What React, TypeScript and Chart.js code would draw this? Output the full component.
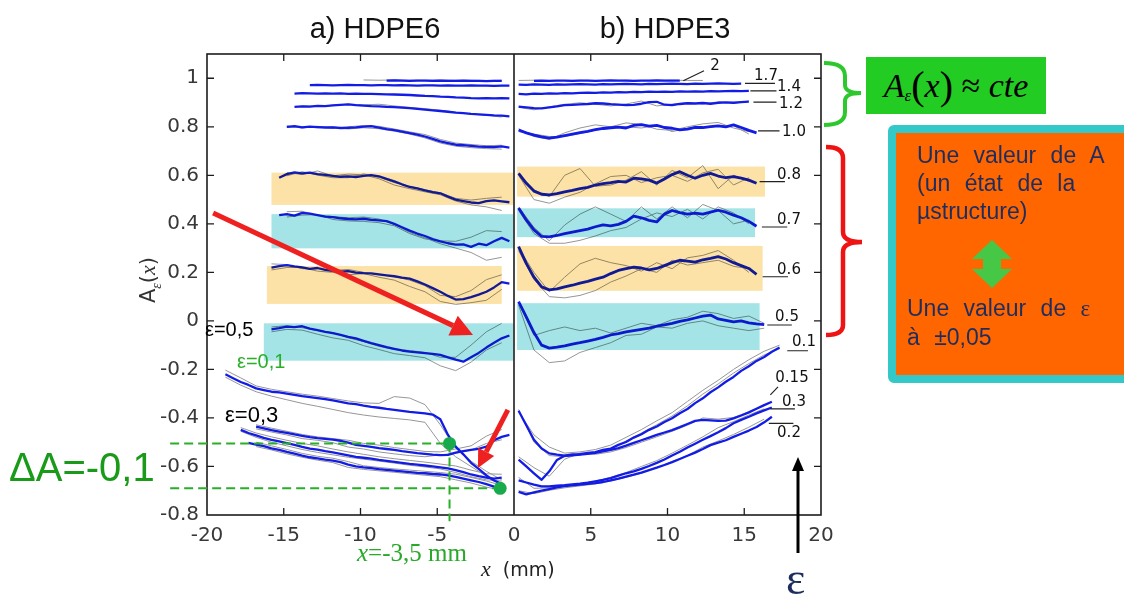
import React, { useEffect, useRef } from "react";
import { Chart, registerables } from "chart.js";

Chart.register(...registerables);

// ---------- axes ----------
const xRange = [-20, 20];
const yRange = [-0.8, 1.1];
const xTickValues = [-20, -15, -10, -5, 0, 5, 10, 15, 20];
const xTickLabels = ["-20", "-15", "-10", "-5", "0", "5", "10", "15", "20"];
const yTickValues = [-0.8, -0.6, -0.4, -0.2, 0, 0.2, 0.4, 0.6, 0.8, 1];
const yTickLabels = ["-0.8", "-0.6", "-0.4", "-0.2", "0", "0.2", "0.4", "0.6", "0.8", "1"];

// ---------- sampling positions x (mm) ----------
const gridL = [-18.8, -18.3, -17.8, -17.3, -16.8, -16.3, -15.8, -15.3, -14.8, -14.3, -13.8, -13.3, -12.8, -12.3, -11.8, -11.3, -10.8, -10.3, -9.8, -9.3, -8.8, -8.3, -7.8, -7.3, -6.8, -6.3, -5.8, -5.3, -4.8, -4.3, -3.8, -3.3, -2.8, -2.3, -1.8, -1.3, -0.8, -0.3];
const gridLc = [-18.8, -17.8, -16.8, -15.8, -14.8, -13.8, -12.8, -11.8, -10.8, -9.8, -8.8, -7.8, -6.8, -5.8, -4.8, -3.8, -2.8, -1.8, -0.8];
const gridR = [0.3, 0.8, 1.3, 1.8, 2.3, 2.8, 3.3, 3.8, 4.3, 4.8, 5.3, 5.8, 6.3, 6.8, 7.3, 7.8, 8.3, 8.8, 9.3, 9.8, 10.3, 10.8, 11.3, 11.8, 12.3, 12.8, 13.3, 13.8, 14.3, 14.8, 15.3, 15.8, 16.3, 16.8, 17.3];
const gridRc = [0.3, 1.3, 2.3, 3.3, 4.3, 5.3, 6.3, 7.3, 8.3, 9.3, 10.3, 11.3, 12.3, 13.3, 14.3, 15.3, 16.3, 17.3];

// ---------- a) HDPE6 : mean curves A_eps(x) ----------
const a_e2 = [0.990, 0.991, 0.990, 0.989, 0.990, 0.990, 0.989, 0.990, 0.989, 0.989, 0.990, 0.989, 0.989, 0.988, 0.989, 0.989];
const a_e17 = [0.972, 0.973, 0.972, 0.971, 0.972, 0.973, 0.972, 0.972, 0.971, 0.972, 0.972, 0.971, 0.972, 0.971, 0.970, 0.971, 0.971, 0.970, 0.971, 0.970, 0.970, 0.971, 0.970, 0.970, 0.969, 0.970, 0.970];
const a_e14 = [0.937, 0.939, 0.938, 0.937, 0.938, 0.937, 0.938, 0.936, 0.937, 0.936, 0.936, 0.935, 0.934, 0.933, 0.932, 0.931, 0.929, 0.927, 0.926, 0.924, 0.923, 0.921, 0.920, 0.918, 0.917, 0.918, 0.917, 0.918, 0.917];
const a_e12 = [0.882, 0.884, 0.883, 0.886, 0.885, 0.888, 0.890, 0.892, 0.889, 0.887, 0.885, 0.884, 0.882, 0.881, 0.879, 0.877, 0.874, 0.871, 0.868, 0.865, 0.862, 0.858, 0.856, 0.853, 0.851, 0.849, 0.847, 0.846, 0.843];
const a_e10 = [0.800, 0.803, 0.798, 0.801, 0.799, 0.797, 0.798, 0.795, 0.796, 0.798, 0.801, 0.803, 0.797, 0.790, 0.786, 0.780, 0.774, 0.768, 0.760, 0.750, 0.740, 0.733, 0.726, 0.724, 0.721, 0.718, 0.717, 0.716, 0.719, 0.714];
const a_e08 = [0.590, 0.605, 0.612, 0.608, 0.611, 0.605, 0.602, 0.598, 0.594, 0.596, 0.593, 0.598, 0.601, 0.596, 0.585, 0.575, 0.563, 0.552, 0.546, 0.538, 0.531, 0.526, 0.512, 0.500, 0.494, 0.488, 0.485, 0.494, 0.497, 0.493, 0.489];
const a_e07 = [0.436, 0.440, 0.434, 0.445, 0.442, 0.436, 0.430, 0.428, 0.423, 0.420, 0.418, 0.421, 0.416, 0.414, 0.411, 0.400, 0.386, 0.372, 0.360, 0.350, 0.337, 0.328, 0.320, 0.314, 0.315, 0.305, 0.318, 0.312, 0.328, 0.342, 0.328];
const a_e06 = [0.220, 0.226, 0.230, 0.225, 0.221, 0.214, 0.218, 0.210, 0.206, 0.203, 0.205, 0.199, 0.197, 0.196, 0.192, 0.188, 0.184, 0.178, 0.174, 0.163, 0.150, 0.135, 0.120, 0.103, 0.088, 0.090, 0.098, 0.108, 0.120, 0.138, 0.160, 0.154];
const a_e05 = [-0.035, -0.030, -0.024, -0.026, -0.022, -0.032, -0.038, -0.045, -0.050, -0.058, -0.066, -0.072, -0.082, -0.092, -0.100, -0.108, -0.115, -0.122, -0.127, -0.130, -0.133, -0.136, -0.140, -0.150, -0.160, -0.168, -0.150, -0.132, -0.110, -0.090, -0.072, -0.060];
const a_e01 = [-0.220, -0.236, -0.252, -0.264, -0.278, -0.285, -0.292, -0.295, -0.300, -0.305, -0.310, -0.314, -0.318, -0.322, -0.328, -0.334, -0.340, -0.343, -0.349, -0.354, -0.358, -0.363, -0.367, -0.371, -0.375, -0.378, -0.381, -0.386, -0.405, -0.470, -0.518, -0.550, -0.585, -0.610, -0.637, -0.658, -0.672];
const a_e03 = [-0.436, -0.443, -0.450, -0.456, -0.462, -0.468, -0.474, -0.479, -0.483, -0.486, -0.489, -0.494, -0.502, -0.511, -0.515, -0.519, -0.524, -0.528, -0.532, -0.537, -0.541, -0.545, -0.548, -0.551, -0.553, -0.552, -0.543, -0.537, -0.532, -0.527, -0.518, -0.492, -0.478, -0.470];
const a_e015 = [-0.449, -0.462, -0.472, -0.482, -0.490, -0.497, -0.504, -0.511, -0.519, -0.526, -0.531, -0.537, -0.542, -0.548, -0.554, -0.560, -0.564, -0.568, -0.573, -0.577, -0.581, -0.585, -0.589, -0.592, -0.596, -0.600, -0.604, -0.608, -0.615, -0.623, -0.633, -0.640, -0.646, -0.650, -0.646];
const a_e02 = [-0.503, -0.510, -0.516, -0.525, -0.532, -0.540, -0.547, -0.555, -0.562, -0.567, -0.572, -0.576, -0.582, -0.592, -0.600, -0.604, -0.607, -0.611, -0.614, -0.617, -0.620, -0.623, -0.626, -0.628, -0.631, -0.633, -0.637, -0.643, -0.650, -0.657, -0.664, -0.673, -0.683, -0.690];

// ---------- a) HDPE6 : individual tests (grey) ----------
const a_e2_g = [0.993, 0.992, 0.993, 0.992, 0.992, 0.993, 0.992, 0.992, 0.991, 0.992];
const a_e12_g = [0.886, 0.884, 0.889, 0.893, 0.890, 0.893, 0.886, 0.880, 0.875, 0.868, 0.860, 0.852, 0.848, 0.840];
const a_e10_g1 = [0.803, 0.795, 0.802, 0.793, 0.800, 0.805, 0.802, 0.791, 0.779, 0.768, 0.748, 0.733, 0.727, 0.722, 0.724];
const a_e10_g2 = [0.797, 0.800, 0.796, 0.800, 0.791, 0.796, 0.792, 0.782, 0.770, 0.754, 0.733, 0.720, 0.714, 0.710, 0.708];
const a_e08_g1 = [0.612, 0.603, 0.618, 0.598, 0.605, 0.602, 0.586, 0.560, 0.545, 0.532, 0.520, 0.494, 0.478, 0.470, 0.455];
const a_e08_g2 = [0.598, 0.615, 0.601, 0.590, 0.590, 0.606, 0.592, 0.570, 0.555, 0.540, 0.528, 0.505, 0.498, 0.505, 0.510];
const a_e07_g1 = [0.450, 0.452, 0.435, 0.430, 0.425, 0.428, 0.420, 0.398, 0.365, 0.342, 0.318, 0.300, 0.282, 0.250, 0.262];
const a_e07_g2 = [0.428, 0.436, 0.438, 0.418, 0.412, 0.410, 0.405, 0.392, 0.360, 0.338, 0.330, 0.328, 0.345, 0.372, 0.368];
const a_e06_g1 = [0.235, 0.232, 0.215, 0.215, 0.208, 0.212, 0.200, 0.190, 0.183, 0.168, 0.145, 0.105, 0.100, 0.125, 0.170, 0.190];
const a_e06_g2 = [0.210, 0.220, 0.220, 0.205, 0.200, 0.190, 0.195, 0.180, 0.168, 0.142, 0.120, 0.080, 0.068, 0.075, 0.085, 0.130];
const a_e05_g1 = [-0.025, -0.020, -0.028, -0.040, -0.048, -0.070, -0.085, -0.105, -0.118, -0.122, -0.130, -0.150, -0.150, -0.100, -0.045, -0.010];
const a_e05_g2 = [-0.045, -0.035, -0.038, -0.055, -0.070, -0.080, -0.102, -0.118, -0.135, -0.143, -0.152, -0.185, -0.205, -0.170, -0.120, -0.090];
const a_e01_g1 = [-0.203, -0.235, -0.268, -0.282, -0.292, -0.302, -0.310, -0.320, -0.330, -0.338, -0.340, -0.312, -0.318, -0.345, -0.428, -0.525, -0.578, -0.620, -0.655];
const a_e01_g2 = [-0.232, -0.265, -0.292, -0.310, -0.325, -0.340, -0.352, -0.365, -0.378, -0.388, -0.396, -0.402, -0.408, -0.418, -0.505, -0.560, -0.600, -0.640, -0.670];
const a_e03_g1 = [-0.428, -0.442, -0.455, -0.468, -0.478, -0.485, -0.492, -0.505, -0.512, -0.522, -0.530, -0.538, -0.540, -0.528, -0.515, -0.475, -0.448];
const a_e03_g2 = [-0.445, -0.458, -0.470, -0.485, -0.492, -0.502, -0.520, -0.528, -0.540, -0.548, -0.555, -0.560, -0.552, -0.545, -0.532, -0.505, -0.490];
const a_e015_g1 = [-0.440, -0.462, -0.478, -0.492, -0.505, -0.515, -0.528, -0.540, -0.550, -0.560, -0.568, -0.575, -0.582, -0.590, -0.598, -0.615, -0.630, -0.632];
const a_e015_g2 = [-0.455, -0.480, -0.500, -0.515, -0.530, -0.542, -0.552, -0.562, -0.570, -0.578, -0.586, -0.595, -0.602, -0.610, -0.625, -0.642, -0.655, -0.660];
const a_e02_g1 = [-0.500, -0.515, -0.530, -0.546, -0.558, -0.566, -0.580, -0.597, -0.604, -0.610, -0.615, -0.620, -0.625, -0.632, -0.645, -0.660, -0.678];
const a_e02_g2 = [-0.518, -0.532, -0.548, -0.562, -0.574, -0.584, -0.604, -0.612, -0.618, -0.624, -0.630, -0.636, -0.642, -0.655, -0.668, -0.685, -0.698];

// ---------- b) HDPE3 : mean curves ----------
const b_e2 = [0.989, 0.990, 0.989, 0.990, 0.990, 0.989, 0.990, 0.990, 0.989, 0.990, 0.991, 0.990, 0.990, 0.989, 0.990, 0.990, 0.991, 0.990, 0.990, 0.990];
const b_e17 = [0.974, 0.973, 0.975, 0.974, 0.973, 0.975, 0.974, 0.975, 0.976, 0.975, 0.974, 0.976, 0.975, 0.976, 0.977, 0.976, 0.975, 0.977, 0.976, 0.977, 0.978, 0.977, 0.976, 0.978, 0.977, 0.978, 0.979, 0.978, 0.977, 0.978];
const b_e14 = [0.936, 0.934, 0.937, 0.936, 0.938, 0.937, 0.939, 0.938, 0.940, 0.941, 0.940, 0.942, 0.941, 0.943, 0.942, 0.944, 0.943, 0.945, 0.944, 0.945, 0.944, 0.946, 0.945, 0.946, 0.945, 0.947, 0.946, 0.947, 0.948, 0.947, 0.948];
const b_e12 = [0.883, 0.880, 0.877, 0.876, 0.880, 0.884, 0.889, 0.890, 0.892, 0.894, 0.897, 0.896, 0.893, 0.891, 0.889, 0.890, 0.895, 0.902, 0.903, 0.891, 0.889, 0.894, 0.897, 0.896, 0.898, 0.895, 0.899, 0.901, 0.899, 0.902, 0.904];
const b_e10 = [0.787, 0.775, 0.766, 0.758, 0.753, 0.757, 0.764, 0.770, 0.776, 0.781, 0.788, 0.793, 0.796, 0.799, 0.795, 0.806, 0.809, 0.803, 0.806, 0.797, 0.794, 0.787, 0.790, 0.798, 0.797, 0.801, 0.804, 0.800, 0.808, 0.797, 0.785, 0.775];
const b_e08 = [0.608, 0.567, 0.535, 0.522, 0.519, 0.525, 0.532, 0.538, 0.545, 0.550, 0.560, 0.566, 0.570, 0.575, 0.572, 0.588, 0.585, 0.580, 0.568, 0.585, 0.603, 0.615, 0.600, 0.588, 0.600, 0.608, 0.597, 0.590, 0.595, 0.588, 0.580, 0.567];
const b_e07 = [0.465, 0.416, 0.375, 0.348, 0.346, 0.352, 0.360, 0.366, 0.372, 0.378, 0.388, 0.396, 0.392, 0.398, 0.410, 0.432, 0.425, 0.414, 0.408, 0.440, 0.455, 0.446, 0.440, 0.444, 0.440, 0.448, 0.456, 0.448, 0.436, 0.425, 0.410, 0.390];
const b_e06 = [0.306, 0.237, 0.180, 0.140, 0.128, 0.132, 0.140, 0.147, 0.156, 0.163, 0.172, 0.180, 0.195, 0.208, 0.215, 0.222, 0.218, 0.210, 0.216, 0.228, 0.240, 0.250, 0.246, 0.242, 0.252, 0.258, 0.265, 0.255, 0.240, 0.228, 0.216, 0.192];
const b_e05 = [0.079, 0.017, -0.048, -0.100, -0.112, -0.108, -0.103, -0.096, -0.090, -0.083, -0.076, -0.068, -0.058, -0.052, -0.045, -0.040, -0.035, -0.030, -0.022, -0.016, -0.010, -0.002, 0.004, 0.012, 0.020, 0.024, 0.008, 0.002, -0.004, 0.000, -0.008, -0.012, -0.015];
const b_e01 = [-0.370, -0.430, -0.490, -0.526, -0.546, -0.551, -0.555, -0.550, -0.549, -0.544, -0.541, -0.532, -0.526, -0.511, -0.499, -0.481, -0.467, -0.449, -0.435, -0.417, -0.401, -0.381, -0.363, -0.339, -0.319, -0.294, -0.274, -0.251, -0.231, -0.206, -0.187, -0.165, -0.149, -0.127, -0.110];
const b_e015 = [-0.572, -0.600, -0.628, -0.655, -0.620, -0.573, -0.556, -0.554, -0.551, -0.548, -0.544, -0.538, -0.532, -0.524, -0.514, -0.503, -0.492, -0.481, -0.470, -0.460, -0.450, -0.438, -0.425, -0.412, -0.408, -0.410, -0.412, -0.411, -0.402, -0.390, -0.377, -0.362, -0.347, -0.333];
const b_e03 = [-0.657, -0.666, -0.675, -0.682, -0.682, -0.679, -0.677, -0.674, -0.671, -0.667, -0.661, -0.655, -0.648, -0.638, -0.628, -0.620, -0.610, -0.598, -0.585, -0.571, -0.555, -0.539, -0.522, -0.506, -0.490, -0.475, -0.459, -0.442, -0.422, -0.408, -0.395, -0.381, -0.369, -0.357];
const b_e02 = [-0.705, -0.715, -0.707, -0.700, -0.693, -0.686, -0.681, -0.678, -0.675, -0.672, -0.669, -0.664, -0.657, -0.650, -0.642, -0.634, -0.625, -0.615, -0.605, -0.594, -0.582, -0.569, -0.556, -0.543, -0.528, -0.512, -0.502, -0.492, -0.478, -0.465, -0.452, -0.437, -0.418, -0.395];

// ---------- b) HDPE3 : individual tests (grey) ----------
const b_e2_g = [0.991, 0.992, 0.991, 0.991, 0.992, 0.991, 0.991, 0.992, 0.991, 0.991, 0.992, 0.991, 0.991];
const b_e12_g = [0.880, 0.870, 0.882, 0.893, 0.899, 0.893, 0.886, 0.894, 0.906, 0.886, 0.893, 0.899, 0.894, 0.903, 0.897, 0.906];
const b_e10_g1 = [0.792, 0.760, 0.748, 0.775, 0.795, 0.808, 0.800, 0.816, 0.810, 0.790, 0.785, 0.800, 0.812, 0.818, 0.795, 0.780];
const b_e10_g2 = [0.780, 0.770, 0.760, 0.760, 0.772, 0.786, 0.794, 0.800, 0.795, 0.806, 0.780, 0.794, 0.796, 0.802, 0.805, 0.770];
const b_e08_g1 = [0.610, 0.540, 0.512, 0.600, 0.628, 0.555, 0.560, 0.580, 0.615, 0.560, 0.620, 0.590, 0.640, 0.545, 0.600, 0.575];
const b_e08_g2 = [0.600, 0.500, 0.485, 0.510, 0.530, 0.565, 0.595, 0.600, 0.570, 0.590, 0.600, 0.575, 0.610, 0.625, 0.560, 0.590];
const b_e07_g1 = [0.470, 0.385, 0.330, 0.395, 0.440, 0.470, 0.440, 0.410, 0.470, 0.420, 0.470, 0.425, 0.480, 0.455, 0.400, 0.415];
const b_e07_g2 = [0.455, 0.360, 0.320, 0.320, 0.332, 0.350, 0.372, 0.385, 0.420, 0.445, 0.430, 0.460, 0.420, 0.470, 0.445, 0.400];
const b_e06_g1 = [0.300, 0.200, 0.120, 0.180, 0.235, 0.258, 0.240, 0.228, 0.205, 0.240, 0.215, 0.260, 0.270, 0.290, 0.250, 0.200];
const b_e06_g2 = [0.290, 0.170, 0.100, 0.095, 0.105, 0.125, 0.160, 0.185, 0.215, 0.200, 0.250, 0.230, 0.240, 0.250, 0.225, 0.215];
const b_e05_g1 = [0.075, -0.060, -0.040, -0.025, -0.040, -0.030, -0.050, -0.030, -0.010, -0.020, 0.005, 0.015, 0.040, 0.030, 0.010, 0.020, -0.010];
const b_e05_g2 = [0.065, -0.120, -0.172, -0.165, -0.130, -0.110, -0.090, -0.060, -0.055, -0.025, -0.030, -0.010, 0.000, -0.020, -0.030, -0.040, -0.030];
const b_e01_g1 = [-0.375, -0.470, -0.520, -0.545, -0.540, -0.530, -0.512, -0.480, -0.448, -0.412, -0.378, -0.332, -0.286, -0.245, -0.200, -0.160, -0.125, -0.100];
const b_e01_g2 = [-0.365, -0.500, -0.555, -0.560, -0.552, -0.545, -0.528, -0.495, -0.462, -0.428, -0.392, -0.350, -0.302, -0.260, -0.215, -0.176, -0.140, -0.115];
const b_e015_g = [-0.560, -0.605, -0.640, -0.570, -0.545, -0.550, -0.540, -0.522, -0.500, -0.478, -0.455, -0.430, -0.400, -0.405, -0.398, -0.375, -0.345];
const b_e03_g = [-0.645, -0.690, -0.688, -0.680, -0.672, -0.660, -0.645, -0.625, -0.600, -0.576, -0.545, -0.512, -0.478, -0.440, -0.415, -0.388, -0.362];
const b_e02_g = [-0.700, -0.712, -0.698, -0.688, -0.680, -0.672, -0.660, -0.645, -0.628, -0.605, -0.580, -0.555, -0.520, -0.495, -0.468, -0.438, -0.405];

// [grid, first x, values]
const meanCurves: [number[], number, number[]][] = [
  [gridL, -8.3, a_e2], [gridL, -13.3, a_e17], [gridL, -14.3, a_e14], [gridL, -14.3, a_e12],
  [gridL, -14.8, a_e10], [gridL, -15.3, a_e08], [gridL, -15.3, a_e07], [gridL, -15.8, a_e06],
  [gridL, -15.8, a_e05], [gridL, -18.8, a_e01], [gridL, -16.8, a_e03], [gridL, -17.8, a_e015],
  [gridL, -17.3, a_e02],
  [gridR, 1.3, b_e2], [gridR, 0.3, b_e17], [gridR, 0.3, b_e14], [gridR, 0.3, b_e12],
  [gridR, 0.3, b_e10], [gridR, 0.3, b_e08], [gridR, 0.3, b_e07], [gridR, 0.3, b_e06],
  [gridR, 0.3, b_e05], [gridR, 0.3, b_e01], [gridR, 0.3, b_e015], [gridR, 0.3, b_e03],
  [gridR, 0.3, b_e02],
];
const greyCurves: [number[], number, number[]][] = [
  [gridLc, -9.8, a_e2_g], [gridLc, -13.8, a_e12_g],
  [gridLc, -14.8, a_e10_g1], [gridLc, -14.8, a_e10_g2],
  [gridLc, -14.8, a_e08_g1], [gridLc, -14.8, a_e08_g2],
  [gridLc, -14.8, a_e07_g1], [gridLc, -14.8, a_e07_g2],
  [gridLc, -15.8, a_e06_g1], [gridLc, -15.8, a_e06_g2],
  [gridLc, -15.8, a_e05_g1], [gridLc, -15.8, a_e05_g2],
  [gridLc, -18.8, a_e01_g1], [gridLc, -18.8, a_e01_g2],
  [gridLc, -16.8, a_e03_g1], [gridLc, -16.8, a_e03_g2],
  [gridLc, -17.8, a_e015_g1], [gridLc, -17.8, a_e015_g2],
  [gridLc, -16.8, a_e02_g1], [gridLc, -16.8, a_e02_g2],
  [gridRc, 0.3, b_e2_g], [gridRc, 0.3, b_e12_g],
  [gridRc, 0.3, b_e10_g1], [gridRc, 0.3, b_e10_g2],
  [gridRc, 0.3, b_e08_g1], [gridRc, 0.3, b_e08_g2],
  [gridRc, 0.3, b_e07_g1], [gridRc, 0.3, b_e07_g2],
  [gridRc, 0.3, b_e06_g1], [gridRc, 0.3, b_e06_g2],
  [gridRc, 0.3, b_e05_g1], [gridRc, 0.3, b_e05_g2],
  [gridRc, 0.3, b_e01_g1], [gridRc, 0.3, b_e01_g2],
  [gridRc, 0.3, b_e015_g], [gridRc, 0.3, b_e03_g], [gridRc, 0.3, b_e02_g],
];

// ---------- highlighted A ranges [x0, x1, yLow, yHigh] ----------
const bandRanges = [
  [-15.8, -0.05, 0.478, 0.611], [-15.8, -0.05, 0.299, 0.44], [-16.1, -0.8, 0.07, 0.226], [-16.3, -0.05, -0.164, -0.01],
  [0.2, 16.35, 0.512, 0.636], [0.2, 15.7, 0.345, 0.464], [0.2, 16.2, 0.124, 0.309], [0.2, 16.0, -0.12, 0.073],
];
const bandTone = ["amber", "aqua", "amber", "aqua", "amber", "aqua", "amber", "aqua"];

// ---------- annotations in data units ----------
const redArrows = [[-19.6, 0.445, -2.67, -0.058], [-0.4, -0.367, -2.35, -0.606]];
const markerPoints = [[-4.2, -0.505], [-0.9, -0.69]];
const guideLeftX = -22.4;
const guideBottomY = -0.826;
const leaderSegs = [
  [11.03, 0.99, 12.38, 1.031], [15.05, 0.979, 17.0, 0.979], [15.4, 0.948, 17.1, 0.948], [15.6, 0.902, 17.1, 0.902],
  [15.9, 0.783, 17.3, 0.783], [16.0, 0.574, 17.65, 0.574], [16.15, 0.387, 17.8, 0.387], [16.2, 0.182, 17.85, 0.182],
  [16.5, -0.017, 18.1, -0.017], [17.8, -0.123, 19.15, -0.123], [16.7, -0.305, 17.2, -0.272], [16.7, -0.363, 18.3, -0.363],
  [16.6, -0.422, 18.2, -0.422],
];
const epsLabels = ["2", "1.7", "1.4", "1.2", "1.0", "0.8", "0.7", "0.6", "0.5", "0.1", "0.15", "0.3", "0.2"];
const epsLabelPos = [[715, 65], [766, 75], [789, 86], [791, 103], [794, 131], [789, 174], [789, 219], [789, 269], [787, 316], [804, 341], [792, 377], [794, 401], [789, 432]];

const panelTitles = ["a) HDPE6", "b) HDPE3"];

function toPoints(grid: number[], x0: number, ys: number[]) {
  const i0 = grid.findIndex((v) => Math.abs(v - x0) < 1e-6);
  const out: { x: number; y: number }[] = [];
  ys.forEach((y, k) => {
    const x = grid[i0 + k];
    if (x !== undefined) out.push({ x, y });
  });
  return out;
}

const BLUE = "rgb(18,28,228)";
const GREY = "rgb(150,150,150)";

function drawArrow(ctx: any, x1: number, y1: number, x2: number, y2: number, w: number, head: number, color: string) {
  const ang = Math.atan2(y2 - y1, x2 - x1);
  const bx = x2 - head * Math.cos(ang);
  const by = y2 - head * Math.sin(ang);
  ctx.strokeStyle = color;
  ctx.lineWidth = w;
  ctx.lineCap = "butt";
  ctx.beginPath();
  ctx.moveTo(x1, y1);
  ctx.lineTo(bx, by);
  ctx.stroke();
  const hw = head * 0.5;
  ctx.fillStyle = color;
  ctx.beginPath();
  ctx.moveTo(x2, y2);
  ctx.lineTo(bx + hw * Math.sin(ang), by - hw * Math.cos(ang));
  ctx.lineTo(bx - hw * Math.sin(ang), by + hw * Math.cos(ang));
  ctx.closePath();
  ctx.fill();
}

const overlayPlugin = {
  id: "overlay",
  afterDatasetsDraw(chart: any) {
    const { ctx, chartArea: ca } = chart;
    const sx = chart.scales.x;
    const sy = chart.scales.y;
    const X = (v: number) => sx.getPixelForValue(v);
    const Y = (v: number) => sy.getPixelForValue(v);
    ctx.save();
    // bands (multiplied over the curves)
    ctx.globalCompositeOperation = "multiply";
    bandRanges.forEach((b, i) => {
      ctx.fillStyle = bandTone[i] === "amber" ? "rgb(252,226,166)" : "rgb(164,228,230)";
      ctx.fillRect(X(b[0]), Y(b[3]), X(b[1]) - X(b[0]), Y(b[2]) - Y(b[3]));
    });
    ctx.globalCompositeOperation = "source-over";
    // frame, divider and inward ticks
    ctx.strokeStyle = "#1c1c1c";
    ctx.lineWidth = 1.6;
    ctx.strokeRect(ca.left, ca.top, ca.right - ca.left, ca.bottom - ca.top);
    ctx.beginPath();
    ctx.moveTo(X(0), ca.top);
    ctx.lineTo(X(0), ca.bottom);
    ctx.stroke();
    ctx.lineWidth = 1.3;
    ctx.beginPath();
    sx.ticks.forEach((t: any) => {
      if (t.value <= xRange[0] || t.value >= xRange[1] || t.value === 0) return;
      const px = X(t.value);
      ctx.moveTo(px, ca.bottom); ctx.lineTo(px, ca.bottom - 7);
      ctx.moveTo(px, ca.top); ctx.lineTo(px, ca.top + 7);
    });
    sy.ticks.forEach((t: any) => {
      if (t.value <= yRange[0]) return;
      const py = Y(t.value);
      ctx.moveTo(ca.left, py); ctx.lineTo(ca.left + 7, py);
      ctx.moveTo(ca.right, py); ctx.lineTo(ca.right - 7, py);
    });
    ctx.stroke();
    // leader lines for strain labels
    ctx.strokeStyle = "#222";
    ctx.lineWidth = 1.2;
    ctx.beginPath();
    leaderSegs.forEach((s) => {
      ctx.moveTo(X(s[0]), Y(s[1]));
      ctx.lineTo(X(s[2]), Y(s[3]));
    });
    ctx.stroke();
    // green guides
    ctx.strokeStyle = "rgb(40,175,40)";
    ctx.lineWidth = 2;
    ctx.setLineDash([9, 5]);
    ctx.beginPath();
    markerPoints.forEach((p) => {
      ctx.moveTo(X(guideLeftX), Y(p[1]));
      ctx.lineTo(X(p[0]), Y(p[1]));
    });
    ctx.moveTo(X(markerPoints[0][0]), Y(markerPoints[0][1]));
    ctx.lineTo(X(markerPoints[0][0]), Y(guideBottomY));
    ctx.stroke();
    ctx.setLineDash([]);
    ctx.fillStyle = "rgb(25,170,75)";
    markerPoints.forEach((p) => {
      ctx.beginPath();
      ctx.arc(X(p[0]), Y(p[1]), 6.5, 0, Math.PI * 2);
      ctx.fill();
    });
    // red arrows
    redArrows.forEach((a, i) => {
      drawArrow(ctx, X(a[0]), Y(a[1]), X(a[2]), Y(a[3]), 5, i === 0 ? 22 : 18, "rgb(238,32,32)");
    });
    ctx.restore();
  },
};

export default function App() {
  const ref = useRef<HTMLCanvasElement>(null);
  useEffect(() => {
    const datasets: any[] = [];
    meanCurves.forEach((c, i) => {
      datasets.push({
        data: toPoints(c[0], c[1], c[2]),
        borderColor: BLUE,
        borderWidth: i >= 17 && i <= 21 ? 2.8 : 2.3,
        pointRadius: 0,
        tension: 0,
        borderJoinStyle: "round",
        order: 0,
      });
    });
    greyCurves.forEach((c) => {
      datasets.push({
        data: toPoints(c[0], c[1], c[2]),
        borderColor: GREY,
        borderWidth: 1,
        pointRadius: 0,
        tension: 0,
        order: 1,
      });
    });
    const tickFont = { family: "'DejaVu Sans', sans-serif", size: 20 };
    const chart = new Chart(ref.current as HTMLCanvasElement, {
      type: "line",
      data: { datasets },
      plugins: [overlayPlugin],
      options: {
        animation: false,
        responsive: false,
        events: [],
        layout: { padding: { left: 0, right: 303, top: 54, bottom: 0 } },
        plugins: { legend: { display: false }, tooltip: { enabled: false } },
        scales: {
          x: {
            type: "linear",
            min: xRange[0],
            max: xRange[1],
            afterBuildTicks: (s: any) => { s.ticks = xTickValues.map((v) => ({ value: v })); },
            afterFit: (s: any) => { s.height = 81; },
            grid: { display: false, drawTicks: false },
            border: { display: false },
            ticks: {
              callback: (_v: any, i: number) => xTickLabels[i],
              font: tickFont,
              color: "#383838",
              padding: 9,
              maxRotation: 0,
              autoSkip: false,
            },
          },
          y: {
            type: "linear",
            min: yRange[0],
            max: yRange[1],
            afterBuildTicks: (s: any) => { s.ticks = yTickValues.map((v) => ({ value: v })); },
            afterFit: (s: any) => { s.width = 207; },
            grid: { display: false, drawTicks: false },
            border: { display: false },
            ticks: {
              callback: (_v: any, i: number) => yTickLabels[i],
              font: tickFont,
              color: "#383838",
              padding: 8,
              autoSkip: false,
            },
          },
        },
      } as any,
    });
    return () => chart.destroy();
  }, []);

  const sans = "'Liberation Sans', Arial, sans-serif";
  const serif = "'Liberation Serif', 'Times New Roman', serif";
  const dv = "'DejaVu Sans', sans-serif";
  const abs = (left: number, top: number, extra: any = {}) => ({ position: "absolute" as const, left, top, whiteSpace: "nowrap" as const, ...extra });
  const navy = "rgb(30,45,95)";

  return (
    <div style={{ position: "absolute", left: 0, top: 0, width: 1124, height: 596, overflow: "hidden", background: "#fff", fontFamily: sans }}>
      <canvas ref={ref} width={1124} height={596} style={{ position: "absolute", left: 0, top: 0, width: 1124, height: 596 }} />

      {/* panel titles */}
      <div style={abs(275, 13, { width: 200, textAlign: "center", fontFamily: sans, fontSize: 29, lineHeight: "30px", color: "#111" })}>{panelTitles[0]}</div>
      <div style={abs(565, 13, { width: 200, textAlign: "center", fontFamily: sans, fontSize: 29, lineHeight: "30px", color: "#111" })}>{panelTitles[1]}</div>

      {/* axis titles */}
      <div style={abs(150, 280, { width: 0, height: 0 })}>
        <div style={{ position: "absolute", left: 0, top: 0, transform: "translate(-50%,-50%) rotate(-90deg)", fontFamily: dv, fontSize: 21, color: "#333", whiteSpace: "nowrap" }}>
          A<sub style={{ fontSize: 14, fontStyle: "italic", fontFamily: serif }}>ε</sub>(<span style={{ fontStyle: "italic", fontFamily: serif, fontSize: 22 }}>x</span>)
        </div>
      </div>
      <div style={abs(481, 559, { fontSize: 19, lineHeight: "20px", color: "#222", fontFamily: dv })}>
        <span style={{ fontStyle: "italic", fontFamily: serif, fontSize: 22 }}>x</span>&nbsp;&nbsp;(mm)
      </div>

      {/* green annotations */}
      <div style={abs(357, 540, { fontFamily: serif, fontSize: 25, lineHeight: "26px", color: "rgb(40,170,40)" })}>
        <span style={{ fontStyle: "italic" }}>x</span>=-3,5 mm
      </div>
      <div style={abs(9, 446, { fontFamily: sans, fontSize: 40, lineHeight: "42px", color: "rgb(25,155,25)" })}>ΔA=-0,1</div>
      <div style={abs(205, 318, { fontFamily: sans, fontSize: 20, lineHeight: "22px", color: "#000" })}>ε=0,5</div>
      <div style={abs(237, 350, { fontFamily: sans, fontSize: 20, lineHeight: "22px", color: "rgb(40,175,40)" })}>ε=0,1</div>
      <div style={abs(225, 403, { fontFamily: sans, fontSize: 22, lineHeight: "24px", color: "#000" })}>ε=0,3</div>

      {/* strain labels on the right of panel b */}
      {epsLabels.map((t, i) => (
        <div key={t + i} style={abs(epsLabelPos[i][0], epsLabelPos[i][1], { transform: "translate(-50%,-50%)", fontFamily: dv, fontSize: 15, lineHeight: "16px", color: "#111" })}>{t}</div>
      ))}

      {/* right-hand boxes */}
      <div style={abs(866, 57, { width: 180, height: 57, background: "rgb(34,204,34)", display: "flex", alignItems: "center", justifyContent: "center", fontFamily: serif, fontSize: 34, color: "#000" })}>
        <span style={{ fontStyle: "italic" }}>A</span>
        <span style={{ fontStyle: "italic", fontSize: 17, position: "relative", top: 10 }}>ε</span>
        <span style={{ fontSize: 40 }}>(</span>
        <span style={{ fontStyle: "italic" }}>x</span>
        <span style={{ fontSize: 40 }}>)</span>
        <span>&nbsp;≈&nbsp;</span>
        <span style={{ fontStyle: "italic" }}>cte</span>
      </div>
      <div style={abs(888, 125, { width: 260, height: 258, boxSizing: "border-box", border: "8px solid rgb(52,200,200)", borderRadius: 6, background: "rgb(255,102,0)" })} />
      <div style={abs(917, 141, { fontFamily: sans, fontSize: 23, lineHeight: "28px", color: navy, wordSpacing: 8 })}>
        Une valeur de A<br />(un état de la<br />µstructure)
      </div>
      <div style={abs(907, 294, { fontFamily: sans, fontSize: 23, lineHeight: "28px", color: navy, wordSpacing: 8 })}>
        Une valeur de <span style={{ fontFamily: serif }}>ε</span><br />à ±0,05
      </div>
      <div style={abs(786, 556, { fontFamily: serif, fontSize: 46, lineHeight: "46px", color: navy })}>ε</div>

      <svg width={1124} height={596} style={{ position: "absolute", left: 0, top: 0, pointerEvents: "none" }}>
        <path d="M 824 63 Q 845 63 845 76 L 845 85 Q 845 93 861 93 Q 845 93 845 101 L 845 112 Q 845 125 824 125" stroke="rgb(45,200,45)" strokeWidth={4} fill="none" />
        <path d="M 826 147 Q 843 147 843 158 L 843 232 Q 843 242 862 242 Q 843 242 843 252 L 843 325 Q 843 335 826 335" stroke="rgb(238,20,20)" strokeWidth={4.5} fill="none" />
        <line x1={798} y1={553} x2={798} y2={468} stroke="#000" strokeWidth={3} />
        <polygon points="798,457 792,471 804,471" fill="#000" />
        <polygon points="992,240 1012,259 1001,259 1001,269 1012,269 992,288 972,269 983,269 983,259 972,259" fill="rgb(70,200,70)" />
      </svg>
    </div>
  );
}
